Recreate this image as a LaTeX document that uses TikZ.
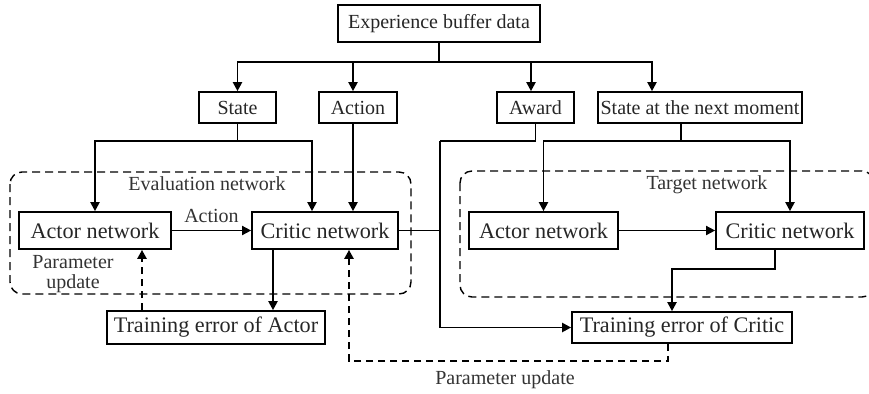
\documentclass[tikz,border=0pt]{standalone}
\usepackage{fontspec}
\setmainfont{Liberation Serif}
\usetikzlibrary{arrows.meta}
\begin{document}
\begin{tikzpicture}[x=0.5pt,y=-0.5pt,
  tip/.style={-{Triangle[length=4.5pt,width=4.6pt]}},
  box/.style={draw, line width=0.9pt, inner sep=0pt, text=black!85,
    font=\fontsize{10}{12}\selectfont},
  netbox/.style={box, font=\fontsize{11.1}{13}\selectfont},
  lbl/.style={inner sep=0pt, text=black!80, font=\fontsize{10}{12}\selectfont},
  plain/.style={line width=0.85pt},
  conn/.style={plain, tip},
  thinconn/.style={line width=0.6pt, tip},
  feedback/.style={line width=1pt, dash pattern=on 3.5pt off 2.5pt, tip},
  groupbox/.style={draw, line width=0.7pt, dash pattern=on 4pt off 2.5pt, rounded corners=6pt}
]
\useasboundingbox (0,0) rectangle (869,393);

% dashed groups
\draw[groupbox] (10,172) rectangle (411,294);
\begin{scope}
  \clip (0,0) rectangle (869,393);
  \draw[groupbox] (460,171) rectangle (874,297);
\end{scope}
\node[lbl, anchor=base] (evallbl) at (207,190) {Evaluation network};
\node[lbl, anchor=base] (tgtlbl) at (707,189) {Target network};

% data boxes
\node[box, minimum width=101pt, minimum height=18.5pt] (exp) at (439,23.5) {Experience buffer data};
\node[box, minimum width=38.5pt, minimum height=15.5pt] (state) at (237.5,107.5) {State};
\node[box, minimum width=39pt, minimum height=15.5pt] (action) at (358,107.5) {Action};
\node[box, minimum width=38.5pt, minimum height=15.5pt] (award) at (535.5,107.5) {Award};
\node[box, minimum width=102pt, minimum height=15.5pt] (next) at (700,107.5) {State at the next moment};

% networks
\node[netbox, minimum width=76pt, minimum height=18.5pt] (eact) at (95,230.5) {Actor network};
\node[netbox, minimum width=73pt, minimum height=18.5pt] (ecrit) at (325,230.5) {Critic network};
\node[netbox, minimum width=74.5pt, minimum height=18.5pt] (tact) at (543.5,230.5) {Actor network};
\node[netbox, minimum width=74pt, minimum height=18.5pt] (tcrit) at (790,230.5) {Critic network};

% training errors
\node[netbox, minimum width=109pt, minimum height=16.5pt] (trainA) at (216,327.5) {Training error of Actor};
\node[netbox, minimum width=110pt, minimum height=15.5pt] (trainC) at (682,327.5) {Training error of Critic};

% labels
\node[lbl, anchor=base] (actlbl) at (211.5,222) {Action};
\node[lbl, align=center, font=\fontsize{10}{9.6}\selectfont] (pu1) at (73,274) {Parameter\\update};
\node[lbl, anchor=base] (pu2) at (505,384) {Parameter update};

% junction points
\coordinate (bus) at (439,62);
\coordinate (sj) at (237.5,141);
\coordinate (nj) at (681,141);
\coordinate (awx) at (440,141);
\coordinate (tj) at (672,269);
\coordinate (fbl) at (349,361);

% buffer fan-out
\draw[plain] (exp.south) -- (bus);
\draw[conn] (bus) -| (state.north);
\draw[conn] (bus) -| ([xshift=-2.5pt]action.north);
\draw[conn] (bus) -| ([xshift=-2.25pt]award.north);
\draw[conn] (bus) -| ([xshift=-24pt]next.north);

% inputs of the evaluation network
\draw[plain] (state.south) -- (sj);
\draw[conn] (sj) -| (eact.north);
\draw[conn] (sj) -| ([xshift=-6.5pt]ecrit.north);
\draw[conn] ([xshift=-2.5pt]action.south) -- ([xshift=-2.5pt]action.south |- ecrit.north);
\draw[thinconn] (eact.east) -- (ecrit.west);

% award and critic output into the critic error
\draw[plain] (award.south) |- (awx);
\draw[conn] (awx) |- (trainC.west);
\draw[plain] (ecrit.east) -- (ecrit.east -| awx);

% inputs of the target network
\draw[plain] (next.south -| nj) -- (nj);
\draw[conn] (nj) -| (tact.north);
\draw[conn] (nj) -| (tcrit.north);
\draw[thinconn] (tact.east) -- (tcrit.west);

% outputs to the training errors
\draw[conn] ([xshift=-26pt]ecrit.south) -- ([xshift=-26pt]ecrit.south |- trainA.north);
\draw[conn] ([xshift=-7.5pt]tcrit.south) |- (tj) -- (tj |- trainC.north);

% parameter updates
\draw[feedback] ([xshift=-37pt]trainA.north) -- ([xshift=-37pt]trainA.north |- eact.south);
\draw[feedback] ([xshift=-7pt]trainC.south) |- (fbl) -- (fbl |- ecrit.south);
\end{tikzpicture}
\end{document}
